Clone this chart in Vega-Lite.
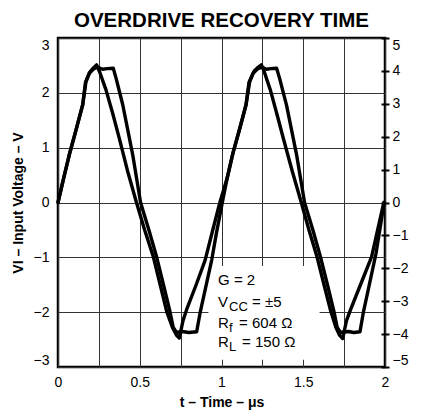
{
  "$schema": "https://vega.github.io/schema/vega-lite/v6.json",
  "width": 327,
  "height": 329,
  "autosize": {"type": "none"},
  "padding": {"left": 58, "top": 38, "right": 37, "bottom": 49},
  "background": "white",
  "config": {
    "font": "Liberation Sans",
    "view": {"stroke": "black", "strokeWidth": 2.5},
    "axis": {
      "domain": false,
      "labelFont": "Liberation Sans",
      "labelFontSize": 14,
      "labelColor": "black",
      "titleFont": "Liberation Sans",
      "titleFontSize": 14,
      "titleFontWeight": "bold",
      "titleColor": "black",
      "gridColor": "#333333",
      "gridWidth": 1,
      "gridOpacity": 1
    }
  },
  "title": {
    "text": "OVERDRIVE RECOVERY TIME",
    "font": "Liberation Sans",
    "fontSize": 20.5,
    "fontWeight": "bold",
    "color": "black",
    "anchor": "middle",
    "frame": "group",
    "baseline": "alphabetic",
    "offset": -10
  },
  "datasets": {
    "vin": [
      {"t": 0.000, "v": 0.00}, {"t": 0.035, "v": 0.45}, {"t": 0.069, "v": 0.87}, {"t": 0.110, "v": 1.32},
      {"t": 0.151, "v": 1.78}, {"t": 0.171, "v": 2.20}, {"t": 0.195, "v": 2.38}, {"t": 0.215, "v": 2.45},
      {"t": 0.236, "v": 2.51}, {"t": 0.255, "v": 2.38}, {"t": 0.294, "v": 2.05}, {"t": 0.335, "v": 1.62},
      {"t": 0.375, "v": 1.17}, {"t": 0.425, "v": 0.58}, {"t": 0.480, "v": 0.00}, {"t": 0.530, "v": -0.50},
      {"t": 0.583, "v": -0.99}, {"t": 0.625, "v": -1.50}, {"t": 0.665, "v": -1.99}, {"t": 0.700, "v": -2.28},
      {"t": 0.725, "v": -2.42}, {"t": 0.742, "v": -2.47}, {"t": 0.765, "v": -2.15}, {"t": 0.787, "v": -1.95},
      {"t": 0.845, "v": -1.50}, {"t": 0.900, "v": -1.05}, {"t": 0.945, "v": -0.52}, {"t": 0.990, "v": 0.00},
      {"t": 1.035, "v": 0.45}, {"t": 1.070, "v": 0.90}, {"t": 1.110, "v": 1.33}, {"t": 1.150, "v": 1.78},
      {"t": 1.172, "v": 2.20}, {"t": 1.200, "v": 2.40}, {"t": 1.222, "v": 2.46}, {"t": 1.244, "v": 2.51},
      {"t": 1.262, "v": 2.38}, {"t": 1.300, "v": 2.04}, {"t": 1.340, "v": 1.60}, {"t": 1.380, "v": 1.15},
      {"t": 1.432, "v": 0.58}, {"t": 1.488, "v": 0.00}, {"t": 1.535, "v": -0.50}, {"t": 1.585, "v": -1.00},
      {"t": 1.627, "v": -1.50}, {"t": 1.668, "v": -1.98}, {"t": 1.700, "v": -2.28}, {"t": 1.722, "v": -2.42},
      {"t": 1.741, "v": -2.48}, {"t": 1.765, "v": -2.15}, {"t": 1.790, "v": -1.95}, {"t": 1.850, "v": -1.50},
      {"t": 1.918, "v": -0.99}, {"t": 1.955, "v": -0.50}, {"t": 1.993, "v": 0.00}
    ],
    "vout": [
      {"t": 0.000, "v": 0.00}, {"t": 0.035, "v": 0.75}, {"t": 0.069, "v": 1.45}, {"t": 0.110, "v": 2.20},
      {"t": 0.151, "v": 2.97}, {"t": 0.168, "v": 3.65}, {"t": 0.190, "v": 3.92}, {"t": 0.215, "v": 4.05},
      {"t": 0.240, "v": 4.12}, {"t": 0.273, "v": 4.05}, {"t": 0.300, "v": 4.07}, {"t": 0.338, "v": 4.08},
      {"t": 0.355, "v": 3.78}, {"t": 0.396, "v": 2.97}, {"t": 0.457, "v": 1.45}, {"t": 0.505, "v": 0.00},
      {"t": 0.555, "v": -0.82}, {"t": 0.603, "v": -1.65}, {"t": 0.645, "v": -2.50}, {"t": 0.685, "v": -3.32},
      {"t": 0.705, "v": -3.80}, {"t": 0.725, "v": -3.95}, {"t": 0.760, "v": -3.92}, {"t": 0.800, "v": -3.95},
      {"t": 0.848, "v": -3.93}, {"t": 0.870, "v": -3.33}, {"t": 0.940, "v": -1.75}, {"t": 0.970, "v": -0.90},
      {"t": 1.005, "v": 0.00}, {"t": 1.035, "v": 0.75}, {"t": 1.070, "v": 1.50}, {"t": 1.110, "v": 2.22},
      {"t": 1.150, "v": 2.97}, {"t": 1.168, "v": 3.65}, {"t": 1.192, "v": 3.92}, {"t": 1.218, "v": 4.05},
      {"t": 1.246, "v": 4.12}, {"t": 1.275, "v": 4.05}, {"t": 1.300, "v": 4.07}, {"t": 1.337, "v": 4.08},
      {"t": 1.355, "v": 3.78}, {"t": 1.398, "v": 2.95}, {"t": 1.460, "v": 1.43}, {"t": 1.508, "v": 0.00},
      {"t": 1.558, "v": -0.82}, {"t": 1.605, "v": -1.65}, {"t": 1.648, "v": -2.50}, {"t": 1.688, "v": -3.32},
      {"t": 1.708, "v": -3.80}, {"t": 1.728, "v": -3.95}, {"t": 1.776, "v": -3.92}, {"t": 1.810, "v": -3.95},
      {"t": 1.847, "v": -3.93}, {"t": 1.868, "v": -3.33}, {"t": 1.945, "v": -1.55}, {"t": 1.995, "v": 0.00}
    ]
  },
  "layer": [
    {
      "layer": [
        {
          "data": {"values": [{}]},
          "mark": {"type": "rect", "fill": "white"},
          "encoding": {
            "x": {
              "datum": 0.92, "type": "quantitative",
              "scale": {"domain": [0, 2], "nice": false, "zero": false},
              "axis": {
                "title": "t – Time – μs",
                "values": [0, 0.25, 0.5, 0.75, 1, 1.25, 1.5, 1.75, 2],
                "format": "~g",
                "labelExpr": "datum.value % 0.5 === 0 ? datum.label : ''",
                "grid": true,
                "ticks": false,
                "tickSize": 0,
                "labelPadding": 8,
                "titlePadding": 6,
                "labelFlush": false,
                "labelOverlap": false
              }
            },
            "x2": {"datum": 1.6},
            "y": {
              "datum": -1.16, "type": "quantitative",
              "scale": {"domain": [-3, 3], "nice": false, "zero": false},
              "axis": {
                "orient": "left",
                "title": "VI – Input Voltage – V",
                "values": [-3, -2, -1, 0, 1, 2, 3],
                "format": "d",
                "grid": true,
                "ticks": false,
                "tickSize": 0,
                "labelPadding": 9,
                "labelFlush": true,
                "titlePadding": 8
              }
            },
            "y2": {"datum": -2.87}
          }
        },
        {
          "data": {"name": "vin"},
          "mark": {"type": "line", "color": "black", "strokeWidth": 3.4, "strokeJoin": "round", "strokeCap": "round"},
          "encoding": {
            "x": {"field": "t", "type": "quantitative"},
            "y": {"field": "v", "type": "quantitative"}
          }
        },
        {
          "data": {"values": [{}]},
          "mark": {"type": "text", "align": "left", "baseline": "alphabetic", "fontSize": 15, "font": "Liberation Sans", "color": "black"},
          "encoding": {"x": {"datum": 0.979}, "y": {"datum": -1.505}, "text": {"value": "G = 2"}}
        },
        {
          "data": {"values": [{}]},
          "mark": {"type": "text", "align": "left", "baseline": "alphabetic", "fontSize": 15, "font": "Liberation Sans", "color": "black"},
          "encoding": {"x": {"datum": 0.979}, "y": {"datum": -1.907}, "text": {"value": "V"}}
        },
        {
          "data": {"values": [{}]},
          "mark": {"type": "text", "align": "left", "baseline": "alphabetic", "fontSize": 13, "font": "Liberation Sans", "color": "black", "dx": 11, "dy": 4},
          "encoding": {"x": {"datum": 0.979}, "y": {"datum": -1.907}, "text": {"value": "CC"}}
        },
        {
          "data": {"values": [{}]},
          "mark": {"type": "text", "align": "left", "baseline": "alphabetic", "fontSize": 15, "font": "Liberation Sans", "color": "black", "dx": 34},
          "encoding": {"x": {"datum": 0.979}, "y": {"datum": -1.907}, "text": {"value": "= ±5"}}
        },
        {
          "data": {"values": [{}]},
          "mark": {"type": "text", "align": "left", "baseline": "alphabetic", "fontSize": 15, "font": "Liberation Sans", "color": "black"},
          "encoding": {"x": {"datum": 0.979}, "y": {"datum": -2.29}, "text": {"value": "R"}}
        },
        {
          "data": {"values": [{}]},
          "mark": {"type": "text", "align": "left", "baseline": "alphabetic", "fontSize": 13, "font": "Liberation Sans", "color": "black", "dx": 11, "dy": 4},
          "encoding": {"x": {"datum": 0.979}, "y": {"datum": -2.29}, "text": {"value": "f"}}
        },
        {
          "data": {"values": [{}]},
          "mark": {"type": "text", "align": "left", "baseline": "alphabetic", "fontSize": 15, "font": "Liberation Sans", "color": "black", "dx": 21},
          "encoding": {"x": {"datum": 0.979}, "y": {"datum": -2.29}, "text": {"value": "= 604 Ω"}}
        },
        {
          "data": {"values": [{}]},
          "mark": {"type": "text", "align": "left", "baseline": "alphabetic", "fontSize": 15, "font": "Liberation Sans", "color": "black"},
          "encoding": {"x": {"datum": 0.979}, "y": {"datum": -2.64}, "text": {"value": "R"}}
        },
        {
          "data": {"values": [{}]},
          "mark": {"type": "text", "align": "left", "baseline": "alphabetic", "fontSize": 13, "font": "Liberation Sans", "color": "black", "dx": 11, "dy": 4},
          "encoding": {"x": {"datum": 0.979}, "y": {"datum": -2.64}, "text": {"value": "L"}}
        },
        {
          "data": {"values": [{}]},
          "mark": {"type": "text", "align": "left", "baseline": "alphabetic", "fontSize": 15, "font": "Liberation Sans", "color": "black", "dx": 24},
          "encoding": {"x": {"datum": 0.979}, "y": {"datum": -2.64}, "text": {"value": "= 150 Ω"}}
        }
      ]
    },
    {
      "data": {"name": "vout"},
      "mark": {"type": "line", "color": "black", "strokeWidth": 3.4, "strokeJoin": "round", "strokeCap": "round"},
      "encoding": {
        "x": {"field": "t", "type": "quantitative"},
        "y": {
          "field": "v", "type": "quantitative",
          "scale": {"domain": [-5, 5], "nice": false, "zero": false},
          "axis": {
            "orient": "right",
            "title": null,
            "values": [-5, -4, -3, -2, -1, 0, 1, 2, 3, 4, 5],
            "format": "d",
            "grid": false,
            "ticks": true,
            "tickSize": 8,
            "tickWidth": 2,
            "tickColor": "black",
            "offset": -4,
            "labelPadding": 3,
            "labelFlush": true
          }
        }
      }
    }
  ],
  "resolve": {"scale": {"y": "independent"}}
}
